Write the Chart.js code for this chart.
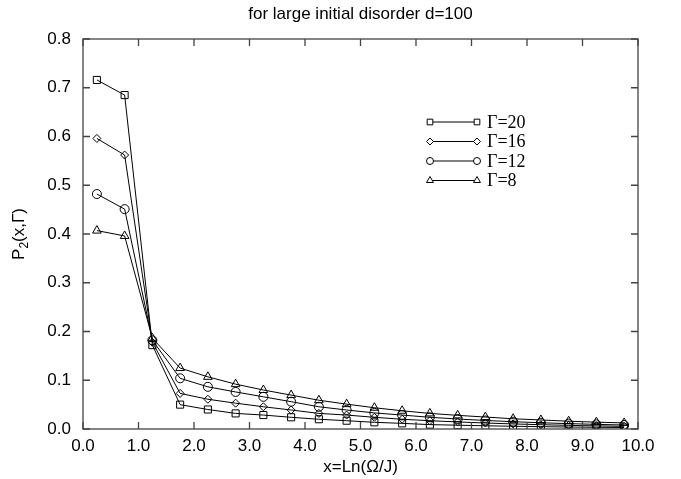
<!DOCTYPE html>
<html>
<head>
<meta charset="utf-8">
<script src="https://cdn.jsdelivr.net/npm/chart.js@4/dist/chart.umd.min.js"></script>
<style>
  html, body { margin: 0; padding: 0; background: #fff; }
  #wrap { width: 681px; height: 479px; }
</style>
</head>
<body>
<div id="wrap"><canvas id="myChart" width="681" height="479"></canvas></div>
<script>
      // data
      const xValues = [0.25, 0.75, 1.25, 1.75, 2.25, 2.75, 3.25, 3.75, 4.25, 4.75,
                       5.25, 5.75, 6.25, 6.75, 7.25, 7.75, 8.25, 8.75, 9.25, 9.75];
      const gamma20 = [0.716, 0.685, 0.172, 0.050, 0.040, 0.032, 0.0286, 0.024, 0.020, 0.017,
                       0.0137, 0.0116, 0.009, 0.0078, 0.0066, 0.0056, 0.0048, 0.0041, 0.0035, 0.003];
      const gamma16 = [0.596, 0.562, 0.178, 0.073, 0.061, 0.053, 0.0456, 0.039, 0.032, 0.0286,
                       0.024, 0.020, 0.017, 0.0145, 0.0123, 0.0104, 0.0088, 0.0075, 0.0064, 0.0055];
      const gamma12 = [0.482, 0.451, 0.182, 0.104, 0.0865, 0.076, 0.066, 0.056, 0.0456, 0.039,
                       0.033, 0.0286, 0.024, 0.0205, 0.0175, 0.015, 0.0128, 0.011, 0.0095, 0.0082];
      const gamma8 = [0.407, 0.396, 0.186, 0.125, 0.107, 0.092, 0.080, 0.0695, 0.059, 0.051,
                      0.0436, 0.0374, 0.032, 0.028, 0.0245, 0.021, 0.0185, 0.016, 0.014, 0.0125];
      const seriesLabels = ["\u0393=20", "\u0393=16", "\u0393=12", "\u0393=8"];
      const seriesValues = [gamma20, gamma16, gamma12, gamma8];
      const markers = ["rect", "rectRot", "circle", "triangle"];
      const markerSizes = [5, 4, 4.5, 5];
      const legendMarkerSizes = [4, 3.5, 3.5, 4];

      const toPoints = (ys) => ys.map((y, i) => ({ x: xValues[i], y: y }));

      const data = {
        datasets: seriesValues.map((ys, i) => ({
          label: seriesLabels[i],
          data: toPoints(ys),
          borderColor: "#000",
          borderWidth: 1,
          backgroundColor: "rgba(255,255,255,0)",
          pointStyle: markers[i],
          pointRadius: markerSizes[i],
          pointBorderWidth: 1,
          pointBorderColor: "#000",
          pointBackgroundColor: "rgba(255,255,255,0)",
          tension: 0,
        })),
      };

      // frame + inward ticks on all four sides
      const frame = {
        id: "frame",
        afterDraw(chart) {
          const {
            ctx,
            chartArea: { top, bottom, left, right },
            scales: { x, y },
          } = chart;
          const len = 7;
          ctx.save();
          ctx.strokeStyle = "#444";
          ctx.lineWidth = 1.3;
          ctx.strokeRect(left, top, right - left, bottom - top);
          ctx.beginPath();
          x.ticks.forEach((t) => {
            const px = x.getPixelForValue(t.value);
            ctx.moveTo(px, bottom);
            ctx.lineTo(px, bottom - len);
            ctx.moveTo(px, top);
            ctx.lineTo(px, top + len);
          });
          y.ticks.forEach((t) => {
            const py = y.getPixelForValue(t.value);
            ctx.moveTo(left, py);
            ctx.lineTo(left + len, py);
            ctx.moveTo(right, py);
            ctx.lineTo(right - len, py);
          });
          ctx.stroke();
          ctx.restore();
        },
      };

      // titles: top title, x label, y label with subscript
      const labels = {
        id: "labels",
        afterDraw(chart) {
          const {
            ctx,
            chartArea: { top, bottom, left, right },
          } = chart;
          const cx = (left + right) / 2;
          ctx.save();
          ctx.fillStyle = "#000";
          ctx.font = "17px 'Liberation Sans', Arial, sans-serif";
          ctx.textAlign = "center";
          ctx.textBaseline = "middle";
          ctx.fillText("for large initial disorder d=100", cx, 14);
          ctx.fillText("x=Ln(\u03A9/J)", cx, 467);

          // y label, rotated
          ctx.translate(18, (top + bottom) / 2);
          ctx.rotate(-Math.PI / 2);
          ctx.textAlign = "left";
          ctx.textBaseline = "alphabetic";
          const w1 = ctx.measureText("P").width;
          ctx.font = "12px 'Liberation Sans', Arial, sans-serif";
          const w2 = ctx.measureText("2").width;
          ctx.font = "17px 'Liberation Sans', Arial, sans-serif";
          const w3 = ctx.measureText("(x,\u0393)").width;
          let sx = -(w1 + w2 + w3) / 2;
          ctx.fillText("P", sx, 6);
          ctx.font = "12px 'Liberation Sans', Arial, sans-serif";
          ctx.fillText("2", sx + w1, 10);
          ctx.font = "17px 'Liberation Sans', Arial, sans-serif";
          ctx.fillText("(x,\u0393)", sx + w1 + w2, 6);
          ctx.restore();
        },
      };

      // legend: line with a marker at each end, then the label
      const legendBox = {
        id: "legendBox",
        afterDraw(chart) {
          const { ctx } = chart;
          const x0 = 430, x1 = 477, textX = 487;
          const rows = [122, 141.5, 161, 180.5];
          ctx.save();
          data.datasets.forEach((ds, i) => {
            const yy = rows[i];
            ctx.strokeStyle = "#000";
            ctx.lineWidth = 1;
            ctx.beginPath();
            ctx.moveTo(x0, yy);
            ctx.lineTo(x1, yy);
            ctx.stroke();
            const opts = { pointStyle: ds.pointStyle, radius: legendMarkerSizes[i], borderWidth: 1, rotation: 0 };
            ctx.fillStyle = "#fff";
            Chart.helpers.drawPoint(ctx, opts, x0, yy);
            Chart.helpers.drawPoint(ctx, opts, x1, yy);
            ctx.fillStyle = "#000";
            ctx.font = "18px 'Liberation Serif', 'Times New Roman', serif";
            ctx.textAlign = "left";
            ctx.textBaseline = "middle";
            ctx.fillText(ds.label, textX, yy + 1);
          });
          ctx.restore();
        },
      };

      const tickFont = { family: "'Liberation Sans', Arial, sans-serif", size: 17 };

      const config = {
        type: "line",
        data,
        options: {
          responsive: false,
          animation: false,
          layout: {
            padding: { left: 0, right: 43, top: 39, bottom: 0 },
          },
          scales: {
            x: {
              type: "linear",
              min: 0,
              max: 10,
              grid: { display: false, drawTicks: false },
              border: { display: false },
              ticks: {
                stepSize: 1,
                font: tickFont,
                color: "#000",
                padding: 7,
                maxRotation: 0,
                callback: (v) => v.toFixed(1),
              },
              afterFit: (s) => { s.height = 50; },
            },
            y: {
              type: "linear",
              min: 0,
              max: 0.8,
              grid: { display: false, drawTicks: false },
              border: { display: false },
              ticks: {
                stepSize: 0.1,
                font: tickFont,
                color: "#000",
                padding: 12,
                callback: (v) => v.toFixed(1),
              },
              afterFit: (s) => { s.width = 83; },
            },
          },
          plugins: {
            legend: { display: false },
            title: { display: false },
            tooltip: { enabled: false },
          },
        },
        plugins: [frame, labels, legendBox],
      };

      const myChart = new Chart(document.getElementById("myChart"), config);
</script>
</body>
</html>
